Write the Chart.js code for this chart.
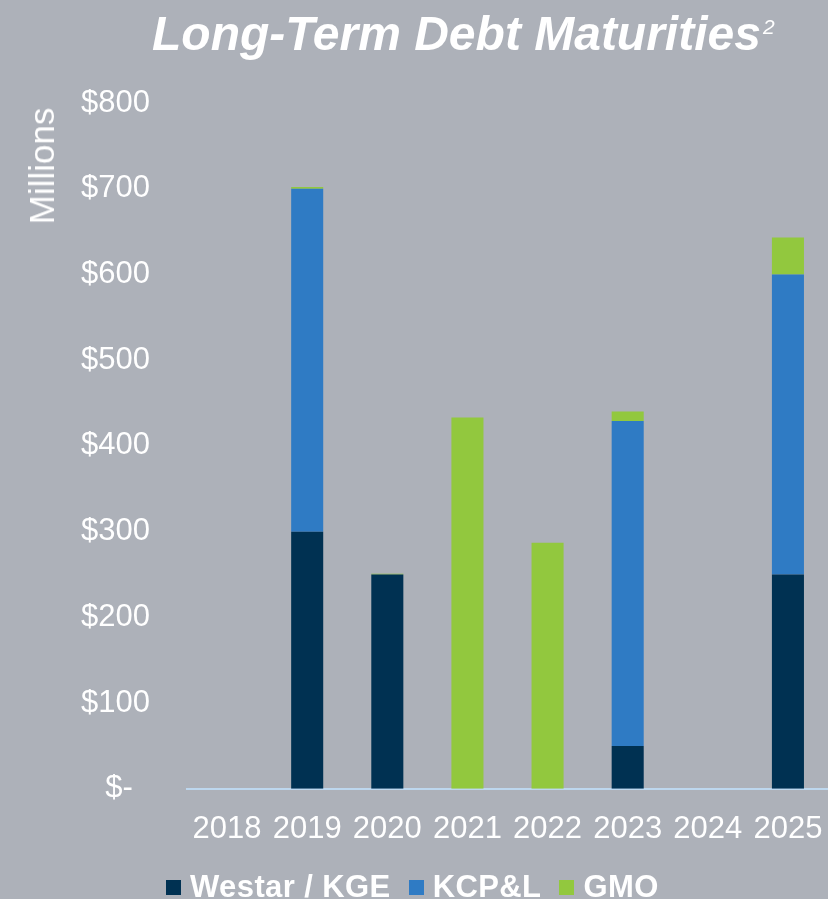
<!DOCTYPE html>
<html>
<head>
<meta charset="utf-8">
<script src="https://cdn.jsdelivr.net/npm/chart.js@4"></script>
<style>
  body { margin: 0; background: #adb1b9; }
  #wrap { position: relative; width: 828px; height: 899px; overflow: hidden; }
  #title {
    position: absolute; left: 152px; top: 6px; white-space: nowrap;
    color: #fff; font: italic bold 48px "Liberation Sans", Arial, sans-serif;
  }
  #title sup { font-size: 21px; font-weight: normal; vertical-align: 16px; margin-left: 2px; }
  #unit {
    position: absolute; left: 42px; top: 166px; color: #fff;
    font: 35px "Liberation Sans", Arial, sans-serif;
    transform: translate(-50%, -50%) rotate(-90deg); white-space: nowrap;
  }
  #legenda {
    position: absolute; left: 166px; top: 870px; display: flex; white-space: nowrap;
    color: #fff; font: bold 31px/34px "Liberation Sans", Arial, sans-serif; letter-spacing: 0.4px;
  }
  #legenda span.item { display: flex; align-items: center; margin-right: 18px; }
  #legenda span.caixa { width: 15px; height: 15px; margin-right: 9px; display: inline-block; }
</style>
</head>
<body>
<div id="wrap">
  <canvas id="grafico" width="828" height="899"></canvas>
  <div id="title">Long-Term Debt Maturities<sup>2</sup></div>
  <div id="unit">Millions</div>
  <div id="legenda"></div>
</div>
<script>
// dados do gráfico (milhões de dólares)
var anos = ['2018', '2019', '2020', '2021', '2022', '2023', '2024', '2025'];
var westar = [0, 300, 250, 0, 0, 50, 0, 250];
var kcpl = [0, 400, 0, 0, 0, 379, 0, 350];
var gmo = [0, 2, 1, 433, 287, 11, 0, 43];
var ticksY = [0, 100, 200, 300, 400, 500, 600, 700, 800];

var fonte = '"Liberation Sans", Arial, sans-serif';

var dados = {
    labels: anos,
    datasets: [{
        label: 'Westar / KGE',
        backgroundColor: '#003152',
        data: westar
    },
    {
        label: 'KCP&L',
        backgroundColor: '#2f7bc4',
        data: kcpl
    },
    {
        label: 'GMO',
        backgroundColor: '#92c83e',
        data: gmo
    }]
};

var options = {
    responsive: false,
    animation: false,
    layout: { padding: { top: 103, right: 0, left: 0, bottom: 37 } },
    datasets: { bar: { barPercentage: 0.4, categoryPercentage: 1 } },
    plugins: {
        title: { display: false },
        tooltip: { enabled: false },
        legend: { display: false }
    },
    scales: {
        x: {
            stacked: true,
            grid: { display: false },
            border: { color: '#bdd7ee', width: 2 },
            afterFit: function (axis) { axis.paddingLeft = 0; axis.paddingRight = 0; },
            ticks: { color: '#fff', padding: 14, font: { family: fonte, size: 31 }, maxRotation: 0, autoSkip: false }
        },
        y: {
            stacked: true,
            min: 0,
            max: 800,
            grid: { display: false },
            border: { display: false },
            afterBuildTicks: function (axis) {
                axis.ticks = ticksY.map(function (v) { return { value: v }; });
            },
            afterFit: function (axis) { axis.width = 187; },
            ticks: {
                color: '#fff',
                padding: 29,
                font: { family: fonte, size: 31 },
                callback: function (v) { return v === 0 ? '$-  ' : '$' + v; }
            }
        }
    }
};

var ctx = document.querySelector('#grafico').getContext('2d');
var barChart = new Chart(ctx, {
    type: 'bar',
    data: dados,
    options: options
});

// legenda em HTML a partir das séries
var leg = document.querySelector('#legenda');
dados.datasets.forEach(function (ds) {
    var item = document.createElement('span');
    item.className = 'item';
    var caixa = document.createElement('span');
    caixa.className = 'caixa';
    caixa.style.background = ds.backgroundColor;
    item.appendChild(caixa);
    item.appendChild(document.createTextNode(ds.label));
    leg.appendChild(item);
});
</script>
</body>
</html>
